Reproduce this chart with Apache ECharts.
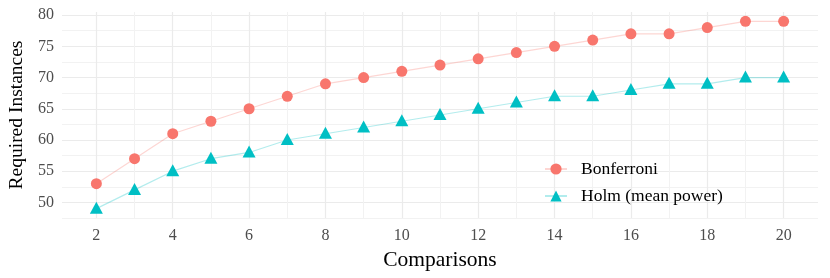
<!DOCTYPE html>
<html><head><meta charset="utf-8">
<script src="https://cdn.jsdelivr.net/npm/echarts@6/dist/echarts.min.js"></script>
<style>html,body{margin:0;padding:0;background:#fff}#c{width:830px;height:278px}</style>
</head><body><div id="c"></div>
<script>
const comparisons = [2,3,4,5,6,7,8,9,10,11,12,13,14,15,16,17,18,19,20];
const bonferroni = [53,57,61,63,65,67,69,70,71,72,73,74,75,76,77,77,78,79,79];
const holm = [49,52,55,57,58,60,61,62,63,64,65,66,67,67,68,69,69,70,70];
const xMajor = [2,4,6,8,10,12,14,16,18,20];
const xMinor = [3,5,7,9,11,13,15,17,19];
const yMajor = [50,55,60,65,70,75,80];
const yMinor = [47.5,52.5,57.5,62.5,67.5,72.5,77.5];

const font = '"Liberation Serif", "DejaVu Serif", serif';
const grid = '#EBEBEB';
const chart = echarts.init(document.getElementById('c'), null, {renderer:'canvas'});
const xr = {min:1.1, max:20.9};
const yr = {min:47.5, max:80.5};
chart.setOption({
  animation:false,
  backgroundColor:'#fff',
  grid:{left:62,right:12,top:12,bottom:60,outerBoundsMode:'none',containLabel:false},
  legend:{
    orient:'vertical', left:539, top:155, itemGap:9, itemWidth:22, itemHeight:14,
    textStyle:{fontFamily:font,fontSize:17.5,color:'#000',lineHeight:18,padding:[0,0,0,9]},
    data:['Bonferroni','Holm (mean power)']
  },
  xAxis:[{
    type:'value', ...xr,
    name:'Comparisons', nameLocation:'middle', nameGap:29,
    nameTextStyle:{fontFamily:font,fontSize:21.5,color:'#000'},
    axisLine:{show:false},
    axisTick:{show:false, customValues:xMajor},
    axisLabel:{customValues:xMajor, fontFamily:font, fontSize:16, color:'#4D4D4D', margin:10},
    splitLine:{show:true, lineStyle:{color:grid, width:1.2}}
  },{
    type:'value', ...xr, position:'bottom',
    axisLine:{show:false}, axisLabel:{show:false},
    axisTick:{show:false, customValues:xMinor},
    splitLine:{show:true, lineStyle:{color:'#F2F2F2', width:1}}
  }],
  yAxis:[{
    type:'value', ...yr,
    name:'Required Instances', nameLocation:'middle', nameGap:31, nameRotate:90,
    nameTextStyle:{fontFamily:font,fontSize:19.5,color:'#000'},
    axisLine:{show:false},
    axisTick:{show:false, customValues:yMajor},
    axisLabel:{customValues:yMajor, fontFamily:font, fontSize:16, color:'#4D4D4D', margin:8},
    splitLine:{show:true, lineStyle:{color:grid, width:1.2}}
  },{
    type:'value', ...yr, position:'left',
    axisLine:{show:false}, axisLabel:{show:false},
    axisTick:{show:false, customValues:yMinor},
    splitLine:{show:true, lineStyle:{color:'#F2F2F2', width:1}}
  }],
  series:[{
    name:'Bonferroni', type:'line',
    data:comparisons.map((c,i)=>[c,bonferroni[i]]),
    symbol:'circle', symbolSize:11,
    itemStyle:{color:'#F8766D'},
    lineStyle:{color:'rgba(248,118,109,0.3)', width:1.2}
  },{
    name:'Holm (mean power)', type:'line',
    data:comparisons.map((c,i)=>[c,holm[i]]),
    symbol:'triangle', symbolSize:[13,12], symbolOffset:[0,-1],
    itemStyle:{color:'#00BFC4'},
    lineStyle:{color:'rgba(0,191,196,0.3)', width:1.2}
  }]
});
</script></body></html>
